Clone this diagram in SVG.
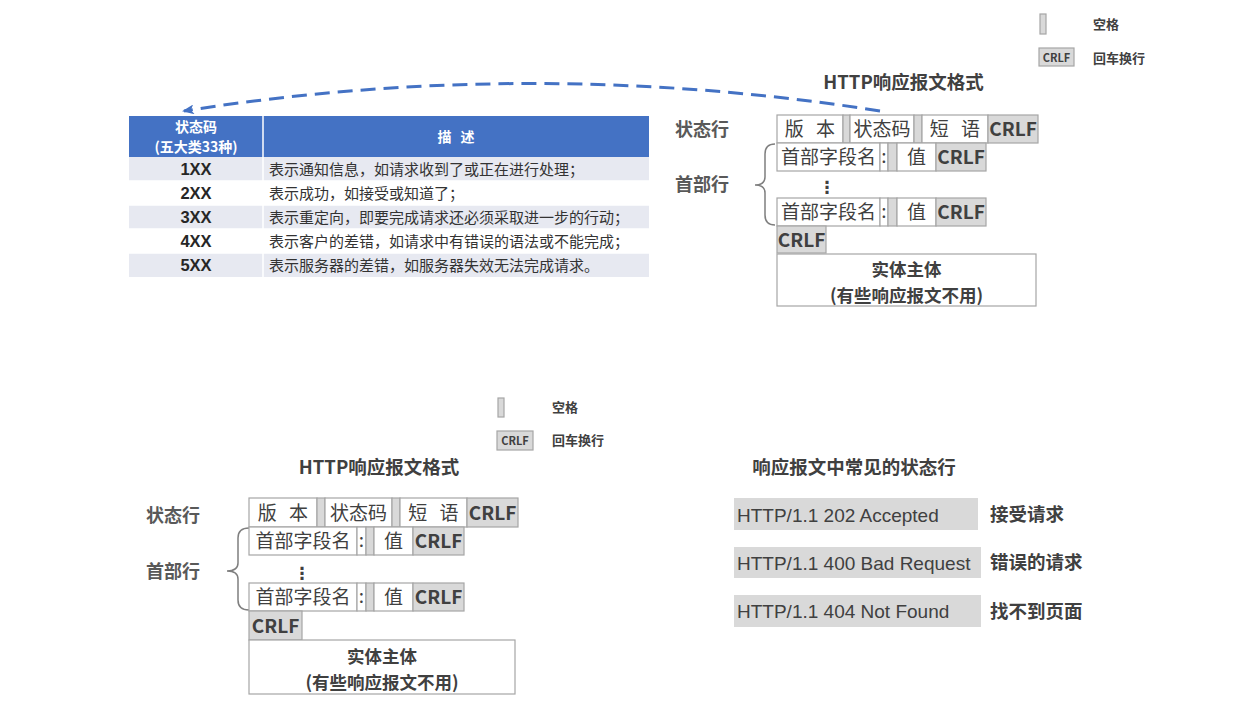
<svg xmlns="http://www.w3.org/2000/svg" width="1256" height="722" viewBox="0 0 1256 722">
<defs>
<style>
.cjk{font-family:"Noto Sans CJK SC","Noto Sans",sans-serif;}
.lat{font-family:"Liberation Sans",Arial,sans-serif;}
.box{fill:#ffffff;stroke:#a6a6a6;stroke-width:1.2;}
.gray{fill:#d9d9d9;stroke:#a6a6a6;stroke-width:1.2;}
.ft{font-family:"Noto Sans CJK SC","Noto Sans",sans-serif;font-size:19px;fill:#404040;text-anchor:middle;}
.bt{font-family:"Noto Sans CJK SC","Noto Sans",sans-serif;font-size:17.5px;font-weight:bold;fill:#404040;text-anchor:middle;}
.crlf{font-family:"Noto Sans CJK SC","Noto Sans",sans-serif;font-size:19px;font-weight:bold;fill:#404040;text-anchor:middle;}
.lbl{font-family:"Noto Sans CJK SC","Noto Sans",sans-serif;font-size:18px;font-weight:bold;fill:#595959;}
.ttl{font-family:"Noto Sans CJK SC","Noto Sans",sans-serif;font-size:18.5px;font-weight:bold;fill:#404040;text-anchor:middle;}
.brace{fill:none;stroke:#7f7f7f;stroke-width:1.5;}
.leg{font-family:"Noto Sans CJK SC","Noto Sans",sans-serif;font-size:13px;font-weight:bold;fill:#404040;}
.legc{font-family:"Noto Sans CJK SC","Noto Sans",sans-serif;font-size:11px;font-weight:bold;fill:#404040;text-anchor:middle;}
.hd{font-family:"Noto Sans CJK SC","Noto Sans",sans-serif;font-size:14px;font-weight:bold;fill:#ffffff;text-anchor:middle;}
.code{font-family:"Liberation Sans",Arial,sans-serif;font-size:16.5px;font-weight:bold;fill:#262626;text-anchor:middle;}
.desc{font-family:"Noto Sans CJK SC","Noto Sans",sans-serif;font-size:15px;fill:#333333;}
.rowA{fill:#e7e9f1;}
.rowB{fill:#ffffff;}
.bar{fill:#d9d9d9;}
.st{font-family:"Liberation Sans",Arial,sans-serif;font-size:19px;fill:#404040;}
.stc{font-family:"Noto Sans CJK SC","Noto Sans",sans-serif;font-size:18.5px;font-weight:bold;fill:#404040;}
.dots{font-family:"DejaVu Sans",sans-serif;font-size:17px;font-weight:bold;fill:#404040;text-anchor:middle;}
</style>
<marker id="ah" viewBox="0 0 12 10" markerWidth="12" markerHeight="10" refX="10" refY="5" orient="auto" markerUnits="userSpaceOnUse">
<path d="M0,0 L12,5 L0,10 L3,5 z" fill="#4472c4"/>
</marker>
</defs>
<rect width="1256" height="722" fill="#ffffff"/>

<!-- connectors -->
<g id="connectors">
<path d="M880,111 Q531,56 184,111" fill="none" stroke="#4472c4" stroke-width="3" stroke-dasharray="15 8" marker-end="url(#ah)"/>
</g>

<!-- top legend -->
<g id="legend-top">
<rect x="1040" y="14" width="6" height="20" class="gray"/>
<text x="1093" y="29" class="leg">空格</text>
<rect x="1039" y="48" width="35" height="18" class="gray"/>
<text x="1056.5" y="61.5" class="legc">CRLF</text>
<text x="1093" y="63" class="leg">回车换行</text>
</g>

<!-- status code table -->
<g id="status-table">
<rect x="129" y="116" width="520" height="41" fill="#4472c4"/>
<line x1="263" y1="116" x2="263" y2="157" stroke="#ffffff" stroke-width="1.5"/>
<text x="196" y="132" class="hd">状态码</text>
<text x="196" y="152" class="hd">(五大类33种)</text>
<text x="456" y="142" class="hd" word-spacing="6">描 述</text>
<rect x="129" y="157" width="520" height="24" class="rowA"/>
<rect x="129" y="181" width="520" height="24" class="rowB"/>
<rect x="129" y="205" width="520" height="24" class="rowA"/>
<rect x="129" y="229" width="520" height="24" class="rowB"/>
<rect x="129" y="253" width="520" height="24" class="rowA"/>
<g stroke="#ffffff" stroke-width="1.5">
<line x1="129" y1="181" x2="649" y2="181"/>
<line x1="129" y1="205" x2="649" y2="205"/>
<line x1="129" y1="229" x2="649" y2="229"/>
<line x1="129" y1="253" x2="649" y2="253"/>
<line x1="263" y1="157" x2="263" y2="277"/>
</g>
<text x="196" y="175" class="code">1XX</text>
<text x="196" y="199" class="code">2XX</text>
<text x="196" y="223" class="code">3XX</text>
<text x="196" y="247" class="code">4XX</text>
<text x="196" y="271" class="code">5XX</text>
<text x="269" y="174.5" class="desc">表示通知信息，如请求收到了或正在进行处理；</text>
<text x="269" y="198.5" class="desc">表示成功，如接受或知道了；</text>
<text x="269" y="222.5" class="desc">表示重定向，即要完成请求还必须采取进一步的行动；</text>
<text x="269" y="246.5" class="desc">表示客户的差错，如请求中有错误的语法或不能完成；</text>
<text x="269" y="270.5" class="desc">表示服务器的差错，如服务器失效无法完成请求。</text>
</g>

<!-- top response format -->
<g id="format-top">
<text x="903.5" y="89" class="ttl">HTTP响应报文格式</text>
<text x="675" y="136" class="lbl">状态行</text>
<text x="675" y="191" class="lbl">首部行</text>
<path class="brace" d="M775,144 Q765,144 765,154 L765,177 Q765,185 755,185 Q765,185 765,193 L765,215 Q765,225 775,225"/>
<g id="top-row1">
<rect x="777" y="115" width="66" height="28" class="box"/>
<rect x="843" y="115" width="7" height="28" class="gray"/>
<rect x="850" y="115" width="64" height="28" class="box"/>
<rect x="914" y="115" width="8" height="28" class="gray"/>
<rect x="922" y="115" width="66" height="28" class="box"/>
<rect x="988" y="115" width="50" height="28" class="gray"/>
<text x="810" y="136" class="ft" word-spacing="8">版 本</text>
<text x="882" y="136" class="ft">状态码</text>
<text x="955" y="136" class="ft" word-spacing="8">短 语</text>
<text x="1013" y="136" class="crlf">CRLF</text>
</g>
<g id="top-row2">
<rect x="777" y="143" width="103" height="28" class="box"/>
<rect x="880" y="143" width="8" height="28" class="box"/>
<rect x="888" y="143" width="9" height="28" class="gray"/>
<rect x="897" y="143" width="39" height="28" class="box"/>
<rect x="936" y="143" width="50" height="28" class="gray"/>
<text x="828.5" y="164" class="ft">首部字段名</text>
<text x="884" y="163" class="ft">:</text>
<text x="916.5" y="164" class="ft">值</text>
<text x="961" y="164" class="crlf">CRLF</text>
</g>
<text x="827" y="193" class="dots">⋮</text>
<g id="top-row3">
<rect x="777" y="198" width="103" height="28" class="box"/>
<rect x="880" y="198" width="8" height="28" class="box"/>
<rect x="888" y="198" width="9" height="28" class="gray"/>
<rect x="897" y="198" width="39" height="28" class="box"/>
<rect x="936" y="198" width="50" height="28" class="gray"/>
<text x="828.5" y="219" class="ft">首部字段名</text>
<text x="884" y="218" class="ft">:</text>
<text x="916.5" y="219" class="ft">值</text>
<text x="961" y="219" class="crlf">CRLF</text>
</g>
<g id="top-crlf">
<rect x="777" y="226" width="49" height="27" class="gray"/>
<text x="801.5" y="246.5" class="crlf">CRLF</text>
</g>
<g id="top-body">
<rect x="777" y="254" width="259" height="52" class="box"/>
<text x="906.5" y="276" class="bt">实体主体</text>
<text x="906.5" y="301.5" class="bt">(有些响应报文不用)</text>
</g>
</g>

<!-- bottom legend -->
<g id="legend-bottom">
<rect x="498" y="398" width="6" height="19" class="gray"/>
<text x="552" y="411.5" class="leg">空格</text>
<rect x="497" y="431" width="36" height="19" class="gray"/>
<text x="515" y="445" class="legc">CRLF</text>
<text x="552" y="445" class="leg">回车换行</text>
</g>

<!-- bottom response format -->
<g id="format-bottom">
<text x="379" y="473.5" class="ttl">HTTP响应报文格式</text>
<text x="146" y="521.5" class="lbl">状态行</text>
<text x="146" y="578" class="lbl">首部行</text>
<path class="brace" d="M249,528 Q238,528 238,538 L238,563 Q238,571 227,571 Q238,571 238,579 L238,600 Q238,610 249,610"/>
<g id="bot-row1">
<rect x="249" y="498" width="68" height="29" class="box"/>
<rect x="317" y="498" width="8" height="29" class="gray"/>
<rect x="325" y="498" width="67" height="29" class="box"/>
<rect x="392" y="498" width="8" height="29" class="gray"/>
<rect x="400" y="498" width="67" height="29" class="box"/>
<rect x="467" y="498" width="51" height="29" class="gray"/>
<text x="283" y="519.5" class="ft" word-spacing="8">版 本</text>
<text x="358.5" y="519.5" class="ft">状态码</text>
<text x="433.5" y="519.5" class="ft" word-spacing="8">短 语</text>
<text x="492.5" y="519.5" class="crlf">CRLF</text>
</g>
<g id="bot-row2">
<rect x="249" y="527" width="108" height="28" class="box"/>
<rect x="357" y="527" width="9" height="28" class="box"/>
<rect x="366" y="527" width="8" height="28" class="gray"/>
<rect x="374" y="527" width="39" height="28" class="box"/>
<rect x="413" y="527" width="51" height="28" class="gray"/>
<text x="303" y="548" class="ft">首部字段名</text>
<text x="361.5" y="547" class="ft">:</text>
<text x="393.5" y="548" class="ft">值</text>
<text x="438.5" y="548" class="crlf">CRLF</text>
</g>
<text x="302" y="579" class="dots">⋮</text>
<g id="bot-row3">
<rect x="249" y="583" width="108" height="28" class="box"/>
<rect x="357" y="583" width="9" height="28" class="box"/>
<rect x="366" y="583" width="8" height="28" class="gray"/>
<rect x="374" y="583" width="39" height="28" class="box"/>
<rect x="413" y="583" width="51" height="28" class="gray"/>
<text x="303" y="604" class="ft">首部字段名</text>
<text x="361.5" y="603" class="ft">:</text>
<text x="393.5" y="604" class="ft">值</text>
<text x="438.5" y="604" class="crlf">CRLF</text>
</g>
<g id="bot-crlf">
<rect x="249" y="611" width="53" height="29" class="gray"/>
<text x="275.5" y="632.5" class="crlf">CRLF</text>
</g>
<g id="bot-body">
<rect x="249" y="640" width="266" height="54" class="box"/>
<text x="382" y="663" class="bt">实体主体</text>
<text x="382" y="688.5" class="bt">(有些响应报文不用)</text>
</g>
</g>

<!-- common status lines -->
<g id="status-lines">
<text x="854" y="473.5" class="ttl">响应报文中常见的状态行</text>
<g id="sl-202">
<rect x="734" y="498" width="244" height="32" class="bar"/>
<text x="737" y="521.5" class="st">HTTP/1.1 202 Accepted</text>
<text x="990" y="521" class="stc">接受请求</text>
</g>
<g id="sl-400">
<rect x="734" y="547" width="247" height="31" class="bar"/>
<text x="737" y="569.5" class="st">HTTP/1.1 400 Bad Request</text>
<text x="990" y="569" class="stc">错误的请求</text>
</g>
<g id="sl-404">
<rect x="734" y="595" width="247" height="32" class="bar"/>
<text x="737" y="618" class="st">HTTP/1.1 404 Not Found</text>
<text x="990" y="618" class="stc">找不到页面</text>
</g>
</g>
</svg>
